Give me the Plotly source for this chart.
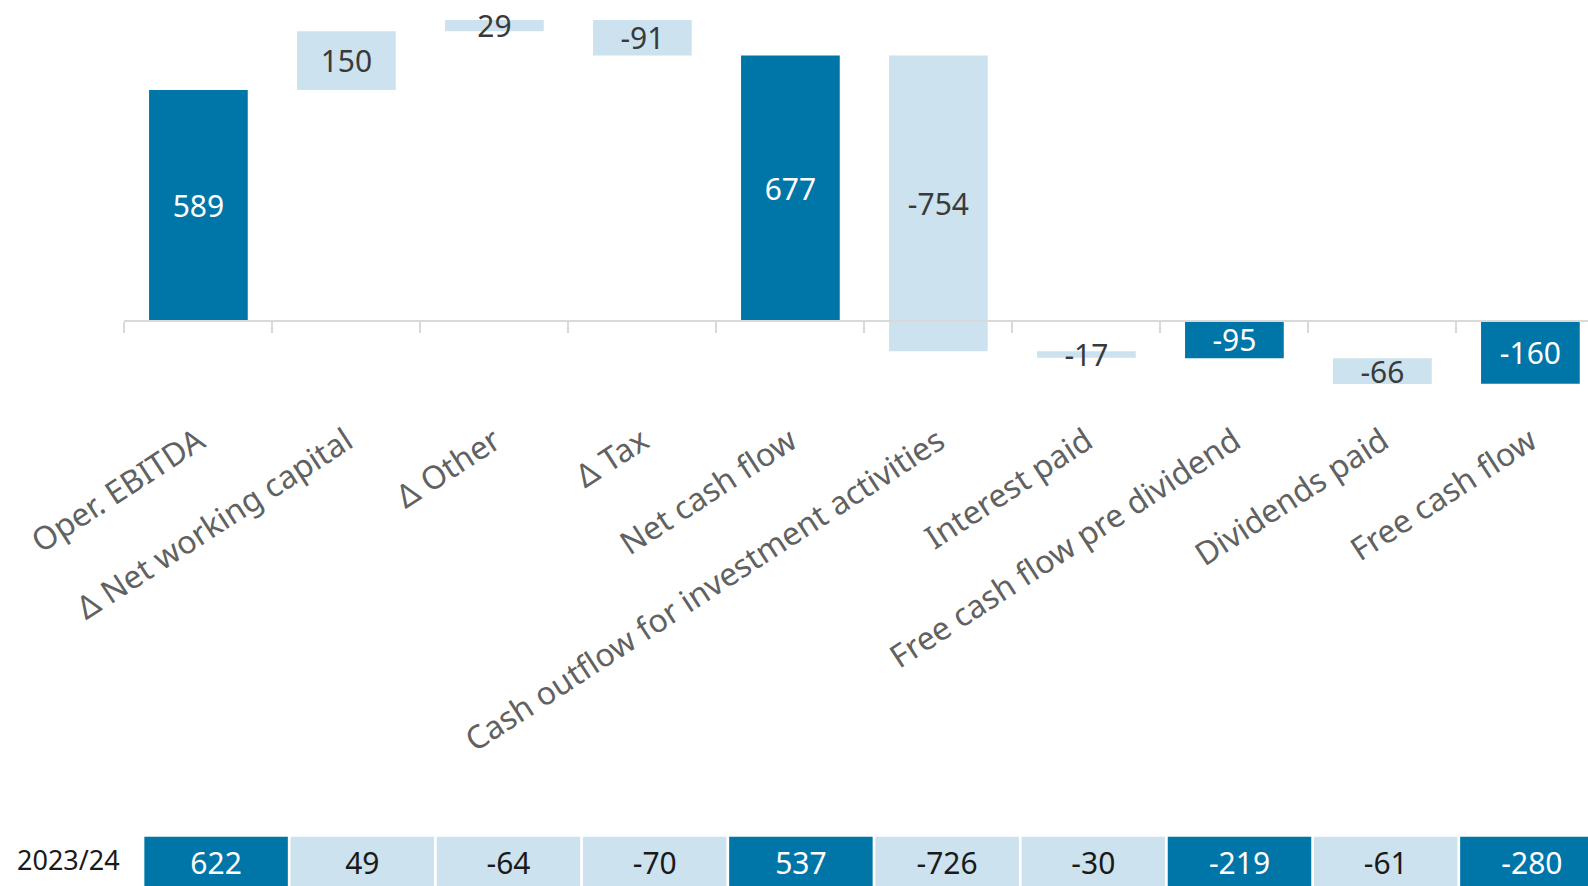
import plotly.graph_objects as go

# ---- data -------------------------------------------------------------
categories = [
    "Oper. EBITDA",
    "Δ Net working capital",
    "Δ Other",
    "Δ Tax",
    "Net cash flow",
    "Cash outflow for investment activities",
    "Interest paid",
    "Free cash flow pre dividend",
    "Dividends paid",
    "Free cash flow",
]
values_2024 = [589, 150, 29, -91, 677, -754, -17, -95, -66, -160]
measures = ["absolute", "relative", "relative", "relative", "absolute",
            "relative", "relative", "absolute", "relative", "absolute"]
prior_label = "2023/24"
values_2023 = [622, 49, -64, -70, 537, -726, -30, -219, -61, -280]

# ---- styling ----------------------------------------------------------
DARK = "#0076A8"
LIGHT = "#CCE2EE"
FONT = "Noto Sans"
W, H = 1588, 886

is_total = [m == "absolute" for m in measures]
label_colors = ["#FFFFFF" if t else "#3A3A3A" for t in is_total]
cell_colors = [DARK if t else LIGHT for t in is_total]
cell_text_colors = ["#FFFFFF" if t else "#1A1A1A" for t in is_total]

# pixel geometry of the main panel
plot_bottom_px = 420      # bottom edge of the waterfall panel
zero_px = 321.0           # y = 0 line
px_per_unit = 0.392
y_max = zero_px / px_per_unit
y_min = -(plot_bottom_px - zero_px) / px_per_unit
main_dom = [1 - plot_bottom_px / H, 1]
axis_pos = (H - zero_px) / H

cat_left_px, cat_px = 124.4, 148.0
x_range = [-0.5, -0.5 + (W - cat_left_px) / cat_px]

tab_left_px, tab_px = 143.0, 146.2
tab_top_px, tab_cell_h = 836.5, 52.0
x2_range = [-0.5, -0.5 + (W - tab_left_px) / tab_px]
y2_dom = [0, (H - tab_top_px) / H]
y2_range = [1 - (H - tab_top_px) / tab_cell_h, 1]

fig = go.Figure()

fig.add_trace(go.Waterfall(
    x=categories,
    y=values_2024,
    measure=measures,
    text=[str(v) for v in values_2024],
    texttemplate="%{text}",
    textposition="inside",
    insidetextanchor="middle",
    textangle=0,
    constraintext="none",
    insidetextfont=dict(family=FONT, size=30, color=label_colors),
    increasing=dict(marker=dict(color=LIGHT, line=dict(width=0))),
    decreasing=dict(marker=dict(color=LIGHT, line=dict(width=0))),
    totals=dict(marker=dict(color=DARK, line=dict(width=0))),
    connector=dict(visible=False),
    cliponaxis=False,
    hoverinfo="skip",
    xaxis="x", yaxis="y",
    showlegend=False,
))

fig.add_trace(go.Bar(
    x=categories,
    y=[1] * len(values_2023),
    base=0,
    marker=dict(color=cell_colors, line=dict(width=0)),
    text=[str(v) for v in values_2023],
    texttemplate="%{text}",
    textposition="inside",
    insidetextanchor="middle",
    textangle=0,
    constraintext="none",
    insidetextfont=dict(family=FONT, size=30, color=cell_text_colors),
    hoverinfo="skip",
    xaxis="x2", yaxis="y2",
    showlegend=False,
))

fig.add_annotation(
    x=121.7 / W, xref="paper", xanchor="right",
    y=0.5, yref="y2", yanchor="middle", yshift=3,
    text=prior_label, showarrow=False,
    font=dict(family=FONT, size=27, color="#1A1A1A"),
)

fig.update_layout(
    width=W, height=H,
    margin=dict(l=0, r=0, t=0, b=0),
    paper_bgcolor="white", plot_bgcolor="rgba(0,0,0,0)",
    waterfallgap=0.333,
    bargap=0.0185,
    xaxis=dict(
        type="category",
        domain=[cat_left_px / W, 1],
        range=x_range,
        anchor="free", position=axis_pos,
        automargin=False,
        tickangle=-33,
        tickson="boundaries",
        ticks="outside", ticklen=11, tickwidth=2, tickcolor="#D9D9D9",
        showline=True, linecolor="#D9D9D9", linewidth=2,
        showgrid=False, zeroline=False,
        ticklabelstandoff=88,
        tickfont=dict(family=FONT, size=32, color="#616161"),
        fixedrange=True,
    ),
    yaxis=dict(
        domain=main_dom, range=[y_min, y_max],
        visible=False, showgrid=False, zeroline=False, fixedrange=True,
        automargin=False,
    ),
    xaxis2=dict(
        type="category",
        domain=[tab_left_px / W, 1], range=x2_range,
        anchor="y2", visible=False, fixedrange=True, automargin=False,
    ),
    yaxis2=dict(
        domain=y2_dom, range=y2_range,
        anchor="x2", visible=False, fixedrange=True, automargin=False,
    ),
)

fig.write_html("out.html")
